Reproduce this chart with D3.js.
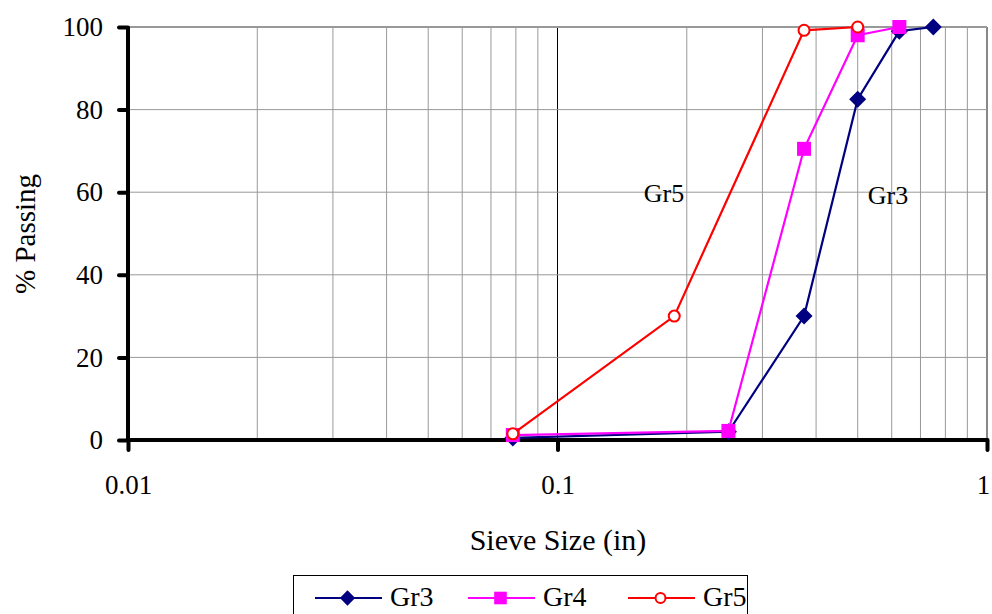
<!DOCTYPE html>
<html><head><meta charset="utf-8">
<script src="https://cdn.jsdelivr.net/npm/d3@7"></script>
<style>body{margin:0;background:#fff}svg{display:block}text{font-family:"Liberation Serif","Times New Roman",serif;fill:#000}</style>
</head><body><svg id="c" width="992" height="614"></svg>
<script>
const sieves3 = [0.0787, 0.25, 0.375, 0.5, 0.625, 0.75];
const gr3 = [0.5, 2, 30, 82.5, 99, 100];
const sieves4 = [0.0787, 0.25, 0.375, 0.5, 0.625];
const gr4 = [1.2, 2.2, 70.5, 98, 100];
const sieves5 = [0.0787, 0.187, 0.375, 0.5];
const gr5 = [1.5, 30, 99.2, 100];
const yTicks = [0, 20, 40, 60, 80, 100];
const xTickLabels = ["0.01", "0.1", "1"];
const seriesNames = ["Gr3", "Gr4", "Gr5"];
const colors = ["#000080", "#ff00ff", "#ff0000"];

const svg = d3.select("#c");
const L = 128, R = 987, T = 27, B = 440;
const x = d3.scaleLog().domain([0.01, 1]).range([L, R]);
const y = d3.scaleLinear().domain([0, 100]).range([B, T]);

// vertical grid (minor log lines)
const minor = [];
for (const d of [0.01, 0.1]) for (let k = 2; k <= 9; k++) minor.push(d * k);
svg.append("g").selectAll("line").data(minor).join("line")
  .attr("x1", d => x(d)).attr("x2", d => x(d)).attr("y1", T).attr("y2", B)
  .attr("stroke", "#999").attr("stroke-width", 1);
svg.append("line").attr("x1", x(0.1)).attr("x2", x(0.1)).attr("y1", T).attr("y2", B)
  .attr("stroke", "#000").attr("stroke-width", 1);
svg.append("line").attr("x1", x(1)).attr("x2", x(1)).attr("y1", T).attr("y2", B)
  .attr("stroke", "#888").attr("stroke-width", 2);
svg.append("g").selectAll("line").data(yTicks.filter(d => d > 0)).join("line")
  .attr("x1", L).attr("x2", R).attr("y1", d => y(d)).attr("y2", d => y(d))
  .attr("stroke", "#999").attr("stroke-width", d => d === 100 ? 2 : 1);

// axes
const yAxis = svg.append("g").attr("transform", `translate(${L},0)`)
  .call(d3.axisLeft(y).tickValues(yTicks).tickSize(9).tickPadding(16));
yAxis.select(".domain").remove();
yAxis.selectAll(".tick line").attr("stroke", "#000").attr("stroke-width", 4).attr("stroke-linecap", "round");
yAxis.selectAll(".tick text").attr("font-size", 27).style("font-family", "Liberation Serif");

const xAxis = svg.append("g").attr("transform", `translate(0,${B})`)
  .call(d3.axisBottom(x).tickValues(xTickLabels.map(Number)).tickFormat((d, i) => xTickLabels[i]).tickSize(10).tickPadding(25));
xAxis.select(".domain").remove();
xAxis.selectAll(".tick line").attr("stroke", "#000").attr("stroke-width", 4).attr("stroke-linecap", "round");
xAxis.selectAll(".tick text").attr("font-size", 27).style("font-family", "Liberation Serif")
  .attr("dx", (d, i) => i === xTickLabels.length - 1 ? -4 : 0);

svg.append("line").attr("x1", L).attr("x2", L).attr("y1", T).attr("y2", B + 1)
  .attr("stroke", "#000").attr("stroke-width", 4);
svg.append("line").attr("x1", L - 1).attr("x2", R + 1).attr("y1", B).attr("y2", B)
  .attr("stroke", "#000").attr("stroke-width", 4);

// series
const series = [
  {name: seriesNames[0], xs: sieves3, ys: gr3, color: colors[0], sym: "diamond"},
  {name: seriesNames[1], xs: sieves4, ys: gr4, color: colors[1], sym: "square"},
  {name: seriesNames[2], xs: sieves5, ys: gr5, color: colors[2], sym: "circle"}
];
const line = d3.line().x(d => x(d[0])).y(d => y(d[1]));
function marker(g, s, cx, cy, k) {
  if (s.sym === "diamond") {
    const h = 8.5 * k;
    g.append("path").attr("d", `M${cx},${cy-h}L${cx+h},${cy}L${cx},${cy+h}L${cx-h},${cy}Z`).attr("fill", s.color);
  } else if (s.sym === "square") {
    const h = 7 * k;
    g.append("rect").attr("x", cx - h).attr("y", cy - h).attr("width", 2 * h).attr("height", 2 * h).attr("fill", s.color);
  } else {
    g.append("circle").attr("cx", cx).attr("cy", cy).attr("r", 5.5 * k).attr("fill", "#fff").attr("stroke", s.color).attr("stroke-width", 2);
  }
}
series.forEach(s => {
  const pts = s.xs.map((v, i) => [v, s.ys[i]]);
  svg.append("path").datum(pts).attr("d", line).attr("fill", "none").attr("stroke", s.color).attr("stroke-width", 2.2);
  const g = svg.append("g");
  pts.forEach(p => marker(g, s, x(p[0]), y(p[1]), 1));
});

// annotations
svg.append("text").attr("x", 664).attr("y", 202).attr("text-anchor", "middle").attr("font-size", 26).text("Gr5");
svg.append("text").attr("x", 888).attr("y", 204).attr("text-anchor", "middle").attr("font-size", 26).text("Gr3");

// axis titles
svg.append("text").attr("transform", "translate(35,234) rotate(-90)").attr("text-anchor", "middle").attr("font-size", 29).text("% Passing");
svg.append("text").attr("x", 558).attr("y", 550).attr("text-anchor", "middle").attr("font-size", 30).text("Sieve Size (in)");

// legend
svg.append("rect").attr("x", 293.5).attr("y", 575.5).attr("width", 454).attr("height", 50).attr("fill", "#fff").attr("stroke", "#000").attr("stroke-width", 1);
const legX = [315, 468, 628];
series.forEach((s, i) => {
  const lx = legX[i], ly = 598;
  svg.append("line").attr("x1", lx).attr("x2", lx + 67).attr("y1", ly).attr("y2", ly).attr("stroke", s.color).attr("stroke-width", 2);
  marker(svg.append("g"), s, lx + 32.5, ly, 0.9);
  svg.append("text").attr("x", lx + 75).attr("y", ly + 8).attr("font-size", 28).text(s.name);
});
</script></body></html>
